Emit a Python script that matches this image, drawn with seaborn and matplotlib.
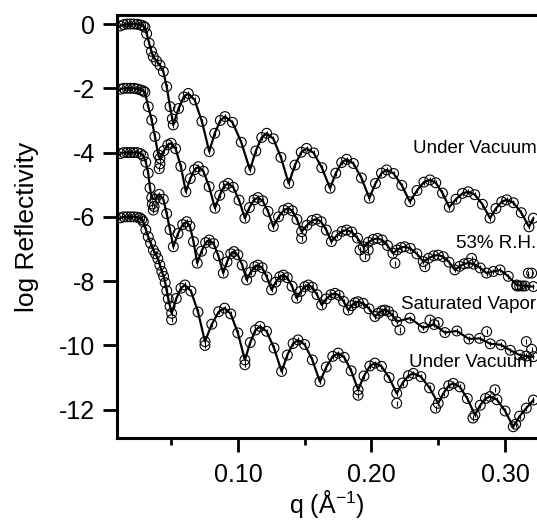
import numpy as np
import pandas as pd
import seaborn as sns
import matplotlib.pyplot as plt

# curve 1: under vacuum (top)
q1 = [0.0120, 0.0145, 0.0170, 0.0195, 0.0220, 0.0245, 0.0270, 0.0290, 0.0303, 0.0316, 0.0335, 0.0352, 0.0366,
      0.0390, 0.0416, 0.0441, 0.0466, 0.0491, 0.0508,
      0.0515, 0.0555, 0.0594, 0.0628, 0.0675, 0.0730,
      0.0785, 0.0826, 0.0868, 0.0903, 0.0959, 0.1025,
      0.1090, 0.1134, 0.1178, 0.1215, 0.1265, 0.1322,
      0.1380, 0.1427, 0.1474, 0.1514, 0.1567, 0.1628,
      0.1690, 0.1733, 0.1777, 0.1814, 0.1865, 0.1925,
      0.1984, 0.2030, 0.2075, 0.2114, 0.2166, 0.2227,
      0.2288, 0.2341, 0.2393, 0.2438, 0.2482, 0.2532,
      0.2583, 0.2633, 0.2682, 0.2725, 0.2774, 0.2831,
      0.2888, 0.2932, 0.2976, 0.3013, 0.3063, 0.3122,
      0.3180, 0.3213]
v1 = [-0.06, -0.02, 0, 0, 0, -0.01, -0.03, -0.06, -0.10, -0.30, -0.60, -0.85, -1.02,
      -1.15, -1.28, -1.48, -1.95, -2.57, -2.95,
      -3.14, -2.63, -2.27, -2.16, -2.36, -3.03,
      -3.97, -3.40, -3.00, -2.88, -3.06, -3.68,
      -4.54, -3.95, -3.53, -3.40, -3.57, -4.15,
      -4.96, -4.39, -3.99, -3.87, -4.01, -4.47,
      -5.11, -4.64, -4.31, -4.21, -4.34, -4.79,
      -5.42, -4.96, -4.64, -4.54, -4.65, -5.02,
      -5.53, -5.18, -4.92, -4.85, -4.94, -5.26,
      -5.70, -5.45, -5.27, -5.22, -5.31, -5.61,
      -6.04, -5.74, -5.53, -5.47, -5.56, -5.87,
      -6.31, -6.04]

# curve 2: 53% R.H.
q2 = [0.0120, 0.0145, 0.0170, 0.0195, 0.0220, 0.0245, 0.0270, 0.0290, 0.0303, 0.0328, 0.0354, 0.0378, 0.0403,
      0.0416, 0.0445, 0.0475, 0.0500, 0.0533, 0.0572,
      0.0610, 0.0643, 0.0675, 0.0703, 0.0741, 0.0784,
      0.0828, 0.0863, 0.0897, 0.0927, 0.0965, 0.1008,
      0.1052, 0.1086, 0.1121, 0.1150, 0.1185, 0.1225,
      0.1265, 0.1304, 0.1343, 0.1377, 0.1407, 0.1442,
      0.1477, 0.1517, 0.1556, 0.1590, 0.1623, 0.1662,
      0.1700, 0.1740, 0.1780, 0.1814, 0.1852, 0.1895,
      0.1939, 0.1976, 0.2013, 0.2045, 0.2080, 0.2120,
      0.2160, 0.2192, 0.2223, 0.2250, 0.2291, 0.2340,
      0.2388, 0.2427, 0.2466, 0.2500, 0.2538, 0.2581,
      0.2625, 0.2660, 0.2695, 0.2725, 0.2766, 0.2815,
      0.2863, 0.2913, 0.2963, 0.3025, 0.3088, 0.3150, 0.3213]
v2 = [-2.03, -2.0, -2.0, -2.0, -2.0, -2.02, -2.05, -2.08, -2.12, -2.57, -2.99, -3.50, -4.07,
      -4.18, -3.94, -3.76, -3.71, -3.88, -4.43,
      -5.22, -4.81, -4.53, -4.44, -4.58, -5.06,
      -5.73, -5.33, -5.04, -4.96, -5.08, -5.48,
      -6.04, -5.71, -5.47, -5.40, -5.50, -5.83,
      -6.30, -6.00, -5.79, -5.73, -5.81, -6.08,
      -6.46, -6.26, -6.11, -6.07, -6.15, -6.41,
      -6.77, -6.58, -6.45, -6.41, -6.47, -6.66,
      -6.93, -6.79, -6.70, -6.67, -6.72, -6.89,
      -7.13, -7.03, -6.95, -6.93, -6.98, -7.15,
      -7.39, -7.29, -7.21, -7.19, -7.24, -7.41,
      -7.65, -7.54, -7.46, -7.44, -7.47, -7.59,
      -7.75, -7.70, -7.65, -7.85, -8.12, -8.15, -8.17]
oq2 = [0.0416, 0.0410, 0.1477, 0.1914, 0.1976, 0.1951, 0.2176, 0.2400, 0.2750, 0.3090, 0.3110, 0.3130, 0.3175, 0.3200]
ov2 = [-4.35, -4.50, -6.67, -7.03, -7.03, -7.24, -7.44, -7.55, -7.29, -8.15, -8.15, -8.15, -7.75, -7.75]

# curve 3: saturated vapor
q3 = [0.0120, 0.0145, 0.0170, 0.0195, 0.0220, 0.0245, 0.0270, 0.0290, 0.0310, 0.0328, 0.0341, 0.0354, 0.0380,
      0.0410, 0.0441, 0.0466, 0.0491,
      0.0516, 0.0551, 0.0586, 0.0616, 0.0640, 0.0667,
      0.0695, 0.0727, 0.0758, 0.0785, 0.0817, 0.0853,
      0.0890, 0.0918, 0.0946, 0.0970, 0.0999, 0.1032,
      0.1065, 0.1095, 0.1125, 0.1150, 0.1181, 0.1216,
      0.1252, 0.1283, 0.1314, 0.1340, 0.1370, 0.1405,
      0.1440, 0.1470, 0.1501, 0.1527, 0.1557, 0.1592,
      0.1627, 0.1662, 0.1697, 0.1727, 0.1757, 0.1791,
      0.1826, 0.1852, 0.1878, 0.1900, 0.1938, 0.1982,
      0.2026, 0.2052, 0.2078, 0.2100, 0.2127, 0.2158,
      0.2189, 0.2288, 0.2388, 0.2470, 0.2550, 0.2640, 0.2730, 0.2810, 0.2890, 0.2970, 0.3040, 0.3110,
      0.3160, 0.3213]
v3 = [-4.03, -4.0, -4.0, -4.0, -4.0, -4.0, -4.03, -4.10, -4.30, -4.64, -5.10, -5.40, -5.45,
      -5.30, -5.45, -5.90, -6.40,
      -6.93, -6.52, -6.24, -6.15, -6.29, -6.77,
      -7.44, -7.07, -6.80, -6.72, -6.83, -7.21,
      -7.75, -7.40, -7.15, -7.08, -7.18, -7.50,
      -7.96, -7.72, -7.55, -7.50, -7.58, -7.87,
      -8.27, -8.03, -7.86, -7.81, -7.89, -8.16,
      -8.53, -8.32, -8.17, -8.12, -8.19, -8.42,
      -8.74, -8.55, -8.42, -8.38, -8.44, -8.63,
      -8.90, -8.76, -8.67, -8.64, -8.69, -8.86,
      -9.10, -9.00, -8.92, -8.90, -8.94, -9.07,
      -9.26, -9.15, -9.45, -9.35, -9.60, -9.55, -9.80, -9.78, -9.95, -9.98, -10.15, -10.30,
      -10.33, -10.35]
oq3 = [0.0366, 0.0372, 0.0359, 0.2213, 0.2438, 0.2500, 0.2863, 0.3160, 0.3200]
ov3 = [-5.79, -5.68, -5.60, -9.52, -9.21, -9.29, -9.57, -9.88, -10.12]

# curve 4: under vacuum (bottom)
q4 = [0.0120, 0.0145, 0.0170, 0.0195, 0.0220, 0.0245, 0.0265, 0.0280, 0.0291, 0.0310, 0.0328, 0.0346, 0.0366,
      0.0383, 0.0400, 0.0415, 0.0430, 0.0443, 0.0455, 0.0467, 0.0478, 0.0491,
      0.0503, 0.0538, 0.0573, 0.0603, 0.0648, 0.0701,
      0.0753, 0.0804, 0.0856, 0.0900, 0.0946, 0.0999,
      0.1052, 0.1092, 0.1131, 0.1165, 0.1214, 0.1270,
      0.1327, 0.1370, 0.1413, 0.1450, 0.1499, 0.1557,
      0.1614, 0.1662, 0.1710, 0.1751, 0.1796, 0.1848,
      0.1900, 0.1944, 0.1988, 0.2026, 0.2075, 0.2132,
      0.2189, 0.2233, 0.2277, 0.2314, 0.2370, 0.2435,
      0.2500, 0.2540, 0.2579, 0.2613, 0.2662, 0.2718,
      0.2775, 0.2815, 0.2854, 0.2888, 0.2940, 0.3001,
      0.3062, 0.3110, 0.3160, 0.3213]
v4 = [-6.03, -6.0, -6.0, -6.0, -6.0, -6.01, -6.03, -6.08, -6.15, -6.40, -6.62, -6.82, -7.03,
      -7.15, -7.30, -7.50, -7.70, -7.85, -8.05, -8.30, -8.55, -8.78,
      -9.00, -8.54, -8.22, -8.12, -8.31, -8.96,
      -9.88, -9.34, -8.95, -8.84, -9.02, -9.61,
      -10.45, -9.91, -9.52, -9.41, -9.56, -10.08,
      -10.81, -10.30, -9.94, -9.83, -9.97, -10.45,
      -11.13, -10.67, -10.34, -10.24, -10.37, -10.79,
      -11.38, -10.95, -10.64, -10.55, -10.65, -11.00,
      -11.49, -11.17, -10.94, -10.87, -10.97, -11.32,
      -11.80, -11.48, -11.25, -11.18, -11.29, -11.65,
      -12.16, -11.86, -11.65, -11.59, -11.69, -12.04,
      -12.53, -12.20, -11.95, -11.70]
oq4 = [0.0503, 0.0753, 0.1052, 0.1900, 0.2189, 0.2480, 0.2760, 0.2925, 0.3080]
ov4 = [-9.20, -10.00, -10.60, -11.55, -11.80, -11.95, -12.26, -11.38, -12.45]

labels = ["Under Vacuum", "53% R.H.", "Saturated Vapor", "Under Vacuum"]
label_pos = [(0.3235, -3.86), (0.3235, -6.84), (0.3235, -8.74), (0.3205, -10.54)]

sns.set_style("ticks")
plt.rcParams['font.family'] = ['Liberation Sans', 'DejaVu Sans']
plt.rcParams['mathtext.default'] = 'regular'
plt.rcParams['axes.unicode_minus'] = False
for k in ['text.color', 'axes.labelcolor', 'xtick.color', 'ytick.color', 'axes.edgecolor']:
    plt.rcParams[k] = 'black'

fig = plt.figure(figsize=(5.37, 5.20), dpi=100)
ax = fig.add_axes([117 / 537, 82 / 520, 1 - 117 / 537, 423 / 520])

curves = [(q1, v1, [], []), (q2, v2, oq2, ov2), (q3, v3, oq3, ov3), (q4, v4, oq4, ov4)]
for q, v, oq, ov in curves:
    df = pd.DataFrame({'q': q, 'v': v})
    sns.lineplot(data=df, x='q', y='v', sort=False, estimator=None, color='black', linewidth=1.6, ax=ax)
    allq = list(q) + list(oq)
    allv = list(v) + list(ov)
    ax.errorbar(allq, allv, yerr=0.08, fmt='none', ecolor='black', elinewidth=0.8)
    sns.scatterplot(x=allq, y=allv, marker='o', s=50, facecolor='none', edgecolor='black',
                    linewidth=0.8, ax=ax)

for txt, (x, y) in zip(labels, label_pos):
    ax.text(x, y, txt, ha='right', va='center', fontsize=13.5)

ax.set_xlim(0.0094, 0.324)
ax.set_ylim(-12.88, 0.28)
ax.set_xticks([0.10, 0.20, 0.30])
ax.set_xticklabels(["0.10", "0.20", "0.30"])
ax.set_xticks([0.05, 0.15, 0.25], minor=True)
ax.set_yticks([0, -2, -4, -6, -8, -10, -12])
ax.set_yticklabels(["0", "-2", "-4", "-6", "-8", "-10", "-12"])
ax.tick_params(axis='both', which='major', length=10, width=2, labelsize=18, pad=6, direction='out')
ax.tick_params(axis='x', which='major', pad=8)
ax.tick_params(axis='x', which='minor', length=5, width=2, direction='out')
for s in ['left', 'bottom', 'top']:
    ax.spines[s].set_linewidth(2.2)
ax.spines['right'].set_visible(False)
ax.set_xlabel("q (Å$^{-1}$)", fontsize=18, labelpad=1)
ax.set_ylabel("log Reflectivity", fontsize=19, labelpad=14)

fig.savefig('out.png', dpi=100)
